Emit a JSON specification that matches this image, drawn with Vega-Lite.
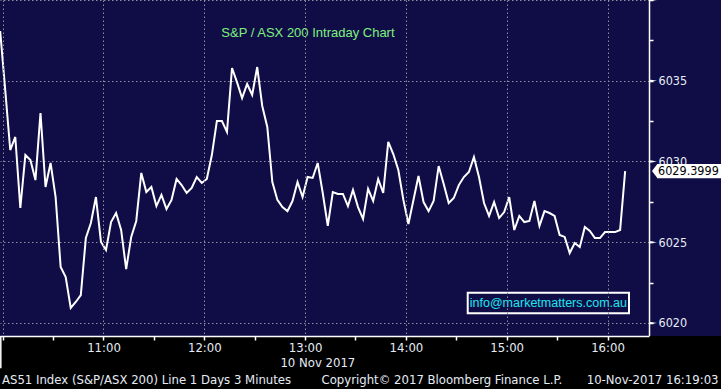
{
  "$schema": "https://vega.github.io/schema/vega-lite/v6.json",
  "width": 649,
  "height": 336,
  "autosize": {"type": "none"},
  "padding": {"left": 0, "top": 0, "right": 72, "bottom": 53},
  "background": "#100d46",
  "config": {"view": {"stroke": null}, "font": "DejaVu Sans Condensed"},
  "datasets": {
    "px": [
      {"t": "2017-11-10T09:58:30", "v": 6038.08},
      {"t": "2017-11-10T10:01:30", "v": 6034.43},
      {"t": "2017-11-10T10:04:30", "v": 6030.71},
      {"t": "2017-11-10T10:07:30", "v": 6031.52},
      {"t": "2017-11-10T10:10:30", "v": 6027.12},
      {"t": "2017-11-10T10:13:30", "v": 6030.40},
      {"t": "2017-11-10T10:16:30", "v": 6030.09},
      {"t": "2017-11-10T10:19:30", "v": 6028.85},
      {"t": "2017-11-10T10:22:30", "v": 6033.00},
      {"t": "2017-11-10T10:25:30", "v": 6028.42},
      {"t": "2017-11-10T10:28:30", "v": 6029.91},
      {"t": "2017-11-10T10:31:30", "v": 6027.80},
      {"t": "2017-11-10T10:34:30", "v": 6023.47},
      {"t": "2017-11-10T10:37:30", "v": 6022.85},
      {"t": "2017-11-10T10:40:30", "v": 6020.93},
      {"t": "2017-11-10T10:43:30", "v": 6021.30},
      {"t": "2017-11-10T10:46:30", "v": 6021.73},
      {"t": "2017-11-10T10:49:30", "v": 6025.26},
      {"t": "2017-11-10T10:52:30", "v": 6026.19},
      {"t": "2017-11-10T10:55:30", "v": 6027.80},
      {"t": "2017-11-10T10:58:30", "v": 6025.02},
      {"t": "2017-11-10T11:01:30", "v": 6024.52},
      {"t": "2017-11-10T11:04:30", "v": 6026.25},
      {"t": "2017-11-10T11:07:30", "v": 6026.81},
      {"t": "2017-11-10T11:10:30", "v": 6025.76},
      {"t": "2017-11-10T11:13:30", "v": 6023.34},
      {"t": "2017-11-10T11:16:30", "v": 6025.33},
      {"t": "2017-11-10T11:19:30", "v": 6026.32},
      {"t": "2017-11-10T11:22:30", "v": 6029.29},
      {"t": "2017-11-10T11:25:30", "v": 6028.11},
      {"t": "2017-11-10T11:28:30", "v": 6028.42},
      {"t": "2017-11-10T11:31:30", "v": 6027.24},
      {"t": "2017-11-10T11:34:30", "v": 6027.93},
      {"t": "2017-11-10T11:37:30", "v": 6027.06},
      {"t": "2017-11-10T11:40:30", "v": 6027.62},
      {"t": "2017-11-10T11:43:30", "v": 6028.92},
      {"t": "2017-11-10T11:46:30", "v": 6028.54},
      {"t": "2017-11-10T11:49:30", "v": 6028.05},
      {"t": "2017-11-10T11:52:30", "v": 6028.36},
      {"t": "2017-11-10T11:55:30", "v": 6029.04},
      {"t": "2017-11-10T11:58:30", "v": 6028.67},
      {"t": "2017-11-10T12:01:30", "v": 6028.92},
      {"t": "2017-11-10T12:04:30", "v": 6030.40},
      {"t": "2017-11-10T12:07:30", "v": 6032.51},
      {"t": "2017-11-10T12:10:30", "v": 6032.51},
      {"t": "2017-11-10T12:13:30", "v": 6031.83},
      {"t": "2017-11-10T12:16:30", "v": 6035.79},
      {"t": "2017-11-10T12:19:30", "v": 6034.90},
      {"t": "2017-11-10T12:22:30", "v": 6033.93},
      {"t": "2017-11-10T12:25:30", "v": 6034.80},
      {"t": "2017-11-10T12:28:30", "v": 6034.12},
      {"t": "2017-11-10T12:31:30", "v": 6035.85},
      {"t": "2017-11-10T12:34:30", "v": 6033.44},
      {"t": "2017-11-10T12:37:30", "v": 6032.14},
      {"t": "2017-11-10T12:40:30", "v": 6028.73},
      {"t": "2017-11-10T12:43:30", "v": 6027.62},
      {"t": "2017-11-10T12:46:30", "v": 6027.18},
      {"t": "2017-11-10T12:49:30", "v": 6026.93},
      {"t": "2017-11-10T12:52:30", "v": 6027.55},
      {"t": "2017-11-10T12:55:30", "v": 6028.73},
      {"t": "2017-11-10T12:58:30", "v": 6027.80},
      {"t": "2017-11-10T13:01:30", "v": 6029.04},
      {"t": "2017-11-10T13:04:30", "v": 6028.98},
      {"t": "2017-11-10T13:07:30", "v": 6029.91},
      {"t": "2017-11-10T13:10:30", "v": 6028.05},
      {"t": "2017-11-10T13:13:30", "v": 6026.01},
      {"t": "2017-11-10T13:16:30", "v": 6028.11},
      {"t": "2017-11-10T13:19:30", "v": 6027.99},
      {"t": "2017-11-10T13:22:30", "v": 6027.99},
      {"t": "2017-11-10T13:25:30", "v": 6027.24},
      {"t": "2017-11-10T13:28:30", "v": 6028.24},
      {"t": "2017-11-10T13:31:30", "v": 6027.18},
      {"t": "2017-11-10T13:34:30", "v": 6026.44},
      {"t": "2017-11-10T13:37:30", "v": 6028.30},
      {"t": "2017-11-10T13:40:30", "v": 6027.55},
      {"t": "2017-11-10T13:43:30", "v": 6028.92},
      {"t": "2017-11-10T13:46:30", "v": 6028.05},
      {"t": "2017-11-10T13:49:30", "v": 6031.21},
      {"t": "2017-11-10T13:52:30", "v": 6030.46},
      {"t": "2017-11-10T13:55:30", "v": 6029.47},
      {"t": "2017-11-10T13:58:30", "v": 6027.62},
      {"t": "2017-11-10T14:01:30", "v": 6026.13},
      {"t": "2017-11-10T14:04:30", "v": 6027.62},
      {"t": "2017-11-10T14:07:30", "v": 6029.10},
      {"t": "2017-11-10T14:10:30", "v": 6027.49},
      {"t": "2017-11-10T14:13:30", "v": 6026.93},
      {"t": "2017-11-10T14:16:30", "v": 6027.55},
      {"t": "2017-11-10T14:19:30", "v": 6029.72},
      {"t": "2017-11-10T14:22:30", "v": 6028.61},
      {"t": "2017-11-10T14:25:30", "v": 6027.43},
      {"t": "2017-11-10T14:28:30", "v": 6027.74},
      {"t": "2017-11-10T14:31:30", "v": 6028.54},
      {"t": "2017-11-10T14:34:30", "v": 6029.04},
      {"t": "2017-11-10T14:37:30", "v": 6029.35},
      {"t": "2017-11-10T14:40:30", "v": 6030.28},
      {"t": "2017-11-10T14:43:30", "v": 6029.04},
      {"t": "2017-11-10T14:46:30", "v": 6027.43},
      {"t": "2017-11-10T14:49:30", "v": 6026.63},
      {"t": "2017-11-10T14:52:30", "v": 6027.49},
      {"t": "2017-11-10T14:55:30", "v": 6026.50},
      {"t": "2017-11-10T14:58:30", "v": 6026.87},
      {"t": "2017-11-10T15:01:30", "v": 6027.80},
      {"t": "2017-11-10T15:04:30", "v": 6025.76},
      {"t": "2017-11-10T15:07:30", "v": 6026.63},
      {"t": "2017-11-10T15:10:30", "v": 6026.25},
      {"t": "2017-11-10T15:13:30", "v": 6026.32},
      {"t": "2017-11-10T15:16:30", "v": 6027.55},
      {"t": "2017-11-10T15:19:30", "v": 6026.01},
      {"t": "2017-11-10T15:22:30", "v": 6026.93},
      {"t": "2017-11-10T15:25:30", "v": 6026.81},
      {"t": "2017-11-10T15:28:30", "v": 6026.63},
      {"t": "2017-11-10T15:31:30", "v": 6025.45},
      {"t": "2017-11-10T15:34:30", "v": 6025.33},
      {"t": "2017-11-10T15:37:30", "v": 6024.33},
      {"t": "2017-11-10T15:40:30", "v": 6024.95},
      {"t": "2017-11-10T15:43:30", "v": 6024.71},
      {"t": "2017-11-10T15:46:30", "v": 6025.94},
      {"t": "2017-11-10T15:49:30", "v": 6025.70},
      {"t": "2017-11-10T15:52:30", "v": 6025.26},
      {"t": "2017-11-10T15:55:30", "v": 6025.26},
      {"t": "2017-11-10T15:58:30", "v": 6025.63},
      {"t": "2017-11-10T16:01:30", "v": 6025.63},
      {"t": "2017-11-10T16:04:30", "v": 6025.63},
      {"t": "2017-11-10T16:07:30", "v": 6025.76},
      {"t": "2017-11-10T16:10:30", "v": 6029.3999}
    ],
    "majors": [{"v": 6020}, {"v": 6025}, {"v": 6030}, {"v": 6035}, {"v": 6040}],
    "one": [{}]
  },
  "layer": [
    {
      "data": {"name": "one"},
      "mark": {"type": "rect", "fill": "#000000"},
      "encoding": {
        "x": {"datum": {"year": 2017, "month": 11, "date": 10, "hours": 9, "minutes": 0}, "type": "temporal"},
        "x2": {"datum": {"year": 2017, "month": 11, "date": 10, "hours": 17, "minutes": 30}},
        "y": {"datum": 6019.195, "type": "quantitative"},
        "y2": {"datum": 6010}
      }
    },
    {
      "data": {"name": "px"},
      "mark": {"type": "line", "stroke": "#ffffff", "strokeWidth": 2},
      "encoding": {
        "x": {
          "field": "t", "type": "temporal",
          "scale": {
            "domain": [
              {"year": 2017, "month": 11, "date": 10, "hours": 9, "minutes": 58, "seconds": 24},
              {"year": 2017, "month": 11, "date": 10, "hours": 16, "minutes": 24, "seconds": 42}
            ],
            "nice": false, "padding": 0
          },
          "axis": {
            "orient": "bottom",
            "title": null,
            "zindex": 1,
            "values": [
              {"year": 2017, "month": 11, "date": 10, "hours": 10, "minutes": 0},
              {"year": 2017, "month": 11, "date": 10, "hours": 10, "minutes": 30},
              {"year": 2017, "month": 11, "date": 10, "hours": 11, "minutes": 0},
              {"year": 2017, "month": 11, "date": 10, "hours": 11, "minutes": 30},
              {"year": 2017, "month": 11, "date": 10, "hours": 12, "minutes": 0},
              {"year": 2017, "month": 11, "date": 10, "hours": 12, "minutes": 30},
              {"year": 2017, "month": 11, "date": 10, "hours": 13, "minutes": 0},
              {"year": 2017, "month": 11, "date": 10, "hours": 13, "minutes": 30},
              {"year": 2017, "month": 11, "date": 10, "hours": 14, "minutes": 0},
              {"year": 2017, "month": 11, "date": 10, "hours": 14, "minutes": 30},
              {"year": 2017, "month": 11, "date": 10, "hours": 15, "minutes": 0},
              {"year": 2017, "month": 11, "date": 10, "hours": 15, "minutes": 30},
              {"year": 2017, "month": 11, "date": 10, "hours": 16, "minutes": 0}
            ],
            "labelExpr": "minutes(datum.value) == 0 && hours(datum.value) >= 11 ? timeFormat(datum.value, '%H:%M') : ''",
            "labelOverlap": false,
            "labelFlush": false,
            "labelFont": "DejaVu Sans Condensed",
            "labelFontSize": 13,
            "labelColor": "#e6ecf5",
            "labelPadding": 1,
            "domainColor": "#ffffff",
            "domainWidth": 1.5,
            "tickColor": "#ffffff",
            "tickSize": 4,
            "tickWidth": 1.5,
            "grid": true,
            "gridColor": "#8e8e9e",
            "gridDash": [1.5, 2.5],
            "gridWidth": 1,
            "gridOpacity": {"condition": {"test": "minutes(datum.value) == 0", "value": 1}, "value": 0}
          }
        },
        "y": {
          "field": "v", "type": "quantitative",
          "scale": {"domain": [6019.195, 6040], "nice": false, "zero": false},
          "axis": {
            "orient": "right",
            "title": null,
            "values": [6020, 6022.5, 6025, 6027.5, 6030, 6032.5, 6035, 6037.5, 6040],
            "format": "d",
            "labelExpr": "datum.value % 5 == 0 && datum.value < 6040 ? format(datum.value, 'd') : ''",
            "labelOverlap": false,
            "labelFlush": false,
            "labelFont": "DejaVu Sans Condensed",
            "labelFontSize": 12.5,
            "labelColor": "#e6ecf5",
            "labelPadding": 5,
            "domainColor": "#ffffff",
            "domainWidth": 1.5,
            "tickColor": "#ffffff",
            "tickSize": 4,
            "tickWidth": 1.5,
            "grid": true,
            "gridColor": "#8e8e9e",
            "gridDash": [1.5, 2.5],
            "gridWidth": 1,
            "gridOpacity": {"condition": {"test": "datum.value % 5 == 0", "value": 1}, "value": 0}
          }
        }
      }
    },
    {
      "data": {"name": "one"},
      "mark": {"type": "text", "text": "S&P / ASX 200 Intraday Chart", "font": "Liberation Sans", "fontSize": 13, "color": "#7ff07f", "align": "center", "baseline": "middle"},
      "encoding": {
        "x": {"datum": {"year": 2017, "month": 11, "date": 10, "hours": 13, "minutes": 1, "seconds": 42}, "type": "temporal"},
        "y": {"datum": 6037.94, "type": "quantitative"}
      }
    },
    {
      "data": {"name": "one"},
      "mark": {"type": "rect", "fill": "#100d46", "stroke": "#ffffff", "strokeWidth": 2},
      "encoding": {
        "x": {"datum": {"year": 2017, "month": 11, "date": 10, "hours": 14, "minutes": 36, "seconds": 48}, "type": "temporal"},
        "x2": {"datum": {"year": 2017, "month": 11, "date": 10, "hours": 16, "minutes": 12, "seconds": 48}},
        "y": {"datum": 6021.88, "type": "quantitative"},
        "y2": {"datum": 6020.60}
      }
    },
    {
      "data": {"name": "one"},
      "mark": {"type": "text", "text": "info@marketmatters.com.au", "font": "Liberation Sans", "fontSize": 12.5, "color": "#1ee6ee", "align": "center", "baseline": "middle"},
      "encoding": {
        "x": {"datum": {"year": 2017, "month": 11, "date": 10, "hours": 15, "minutes": 24, "seconds": 48}, "type": "temporal"},
        "y": {"datum": 6021.24, "type": "quantitative"}
      }
    },
    {
      "data": {"name": "majors"},
      "mark": {"type": "point", "shape": "M -1 -0.3 L 1 0 L -1 0.3 Z", "size": 64, "filled": true, "color": "#ffffff", "opacity": 1},
      "encoding": {
        "x": {"datum": {"year": 2017, "month": 11, "date": 10, "hours": 16, "minutes": 27, "seconds": 5}, "type": "temporal"},
        "y": {"field": "v", "type": "quantitative"}
      }
    },
    {
      "data": {"name": "one"},
      "mark": {"type": "rect", "fill": "#ffffff"},
      "encoding": {
        "x": {"datum": {"year": 2017, "month": 11, "date": 10, "hours": 16, "minutes": 29, "seconds": 28}, "type": "temporal"},
        "x2": {"datum": {"year": 2017, "month": 11, "date": 10, "hours": 17, "minutes": 10}},
        "y": {"datum": 6029.845, "type": "quantitative"},
        "y2": {"datum": 6028.96}
      }
    },
    {
      "data": {"name": "one"},
      "mark": {"type": "point", "shape": "M 0.4 -1 L -0.36 0 L 0.4 1 Z", "size": 196, "filled": true, "color": "#ffffff", "opacity": 1},
      "encoding": {
        "x": {"datum": {"year": 2017, "month": 11, "date": 10, "hours": 16, "minutes": 27, "seconds": 59}, "type": "temporal"},
        "y": {"datum": 6029.41, "type": "quantitative"}
      }
    },
    {
      "data": {"name": "one"},
      "mark": {"type": "text", "text": "6029.3999", "font": "DejaVu Sans Condensed", "fontSize": 12.5, "color": "#000000", "align": "left", "baseline": "middle"},
      "encoding": {
        "x": {"datum": {"year": 2017, "month": 11, "date": 10, "hours": 16, "minutes": 30, "seconds": 4}, "type": "temporal"},
        "y": {"datum": 6029.41, "type": "quantitative"}
      }
    },
    {
      "data": {"name": "one"},
      "mark": {"type": "rule", "stroke": "#ffffff", "strokeWidth": 1.5},
      "encoding": {
        "x": {"datum": {"year": 2017, "month": 11, "date": 10, "hours": 9, "minutes": 58, "seconds": 53}, "type": "temporal"},
        "y": {"datum": 6019.195, "type": "quantitative"},
        "y2": {"datum": 6017.2}
      }
    },
    {
      "data": {"name": "one"},
      "mark": {"type": "text", "text": "10 Nov 2017", "font": "DejaVu Sans Condensed", "fontSize": 13, "color": "#e6ecf5", "align": "center", "baseline": "middle"},
      "encoding": {
        "x": {"datum": {"year": 2017, "month": 11, "date": 10, "hours": 13, "minutes": 7, "seconds": 36}, "type": "temporal"},
        "y": {"datum": 6017.55, "type": "quantitative"}
      }
    },
    {
      "data": {"name": "one"},
      "mark": {"type": "text", "text": "AS51 Index (S&P/ASX 200) Line 1 Days 3 Minutes", "font": "DejaVu Sans Condensed", "fontSize": 13, "color": "#e6ecf5", "align": "left", "baseline": "middle"},
      "encoding": {
        "x": {"datum": {"year": 2017, "month": 11, "date": 10, "hours": 9, "minutes": 59, "seconds": 35}, "type": "temporal"},
        "y": {"datum": 6016.47, "type": "quantitative"}
      }
    },
    {
      "data": {"name": "one"},
      "mark": {"type": "text", "text": "Copyright© 2017 Bloomberg Finance L.P.", "font": "DejaVu Sans Condensed", "fontSize": 13, "color": "#e6ecf5", "align": "left", "baseline": "middle"},
      "encoding": {
        "x": {"datum": {"year": 2017, "month": 11, "date": 10, "hours": 13, "minutes": 9, "seconds": 46}, "type": "temporal"},
        "y": {"datum": 6016.47, "type": "quantitative"}
      }
    },
    {
      "data": {"name": "one"},
      "mark": {"type": "text", "text": "10-Nov-2017 16:19:03", "font": "DejaVu Sans Condensed", "fontSize": 13, "color": "#e6ecf5", "align": "right", "baseline": "middle"},
      "encoding": {
        "x": {"datum": {"year": 2017, "month": 11, "date": 10, "hours": 17, "minutes": 6, "seconds": 5}, "type": "temporal"},
        "y": {"datum": 6016.47, "type": "quantitative"}
      }
    }
  ]
}
